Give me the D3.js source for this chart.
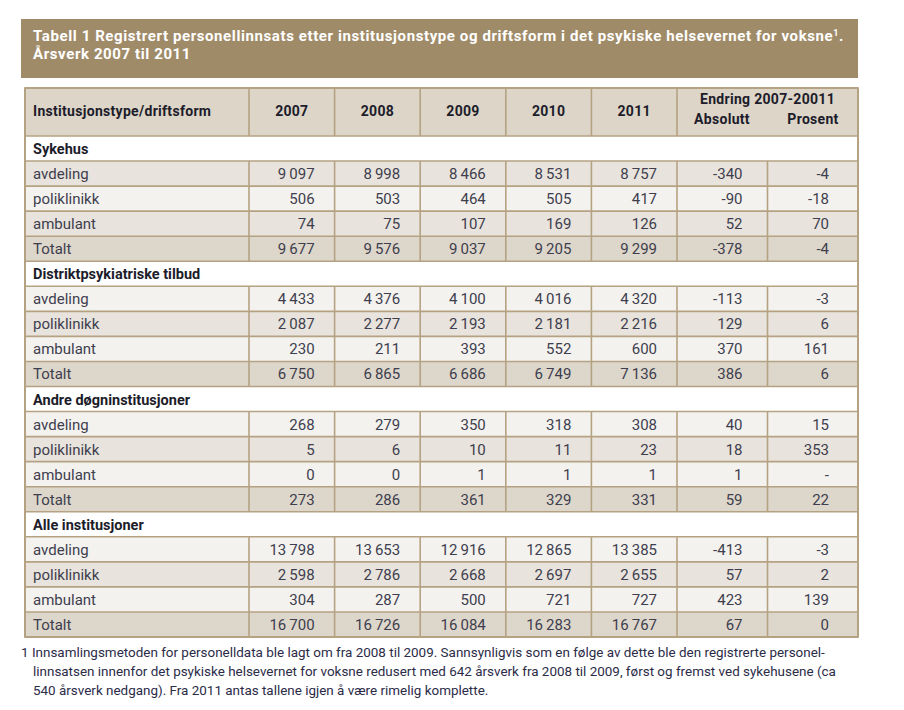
<!DOCTYPE html>
<html><head><meta charset="utf-8">
<script src="https://cdn.jsdelivr.net/npm/d3@7"></script>
<style>body{margin:0;background:#fff} svg{display:block}</style>
</head><body><script>
// ---- data ----
const titleLine1 = "Tabell 1 Registrert personellinnsats etter institusjonstype og driftsform i det psykiske helsevernet for voksne";
const titleLine2 = "Årsverk 2007 til 2011";
const firstColHeader = "Institusjonstype/driftsform";
const years = ["2007", "2008", "2009", "2010", "2011"];
const endringHeader = "Endring 2007-20011";
const endringCols = ["Absolutt", "Prosent"];
const sections = ["Sykehus", "Distriktpsykiatriske tilbud", "Andre døgninstitusjoner", "Alle institusjoner"];
const categories = ["avdeling", "poliklinikk", "ambulant", "Totalt"];

const sykehus = [[9097, 8998, 8466, 8531, 8757], [506, 503, 464, 505, 417], [74, 75, 107, 169, 126], [9677, 9576, 9037, 9205, 9299]];
const sykehusEndring = [[-340, -4], [-90, -18], [52, 70], [-378, -4]];
const distrikt = [[4433, 4376, 4100, 4016, 4320], [2087, 2277, 2193, 2181, 2216], [230, 211, 393, 552, 600], [6750, 6865, 6686, 6749, 7136]];
const distriktEndring = [[-113, -3], [129, 6], [370, 161], [386, 6]];
const andre = [[268, 279, 350, 318, 308], [5, 6, 10, 11, 23], [0, 0, 1, 1, 1], [273, 286, 361, 329, 331]];
const andreEndring = [[40, 15], [18, 353], [1, null], [59, 22]];
const alle = [[13798, 13653, 12916, 12865, 13385], [2598, 2786, 2668, 2697, 2655], [304, 287, 500, 721, 727], [16700, 16726, 16084, 16283, 16767]];
const alleEndring = [[-413, -3], [57, 2], [423, 139], [67, 0]];

const footnote = [
  "1 Innsamlingsmetoden for personelldata ble lagt om fra 2008 til 2009. Sannsynligvis som en følge av dette ble den registrerte personel-",
  "linnsatsen innenfor det psykiske helsevernet for voksne redusert med 642 årsverk fra 2008 til 2009, først og fremst ved sykehusene (ca",
  "540 årsverk nedgang). Fra 2011 antas tallene igjen å være rimelig komplette."
];

// ---- build rows ----
const sectionValues = [sykehus, distrikt, andre, alle];
const sectionEndring = [sykehusEndring, distriktEndring, andreEndring, alleEndring];
const rows = [];
sections.forEach((s, si) => {
  rows.push({type: "section", label: s, si});
  categories.forEach((c, ci) => {
    rows.push({type: c === "Totalt" ? "total" : "data", label: c, si, ci,
      values: sectionValues[si][ci], endring: sectionEndring[si][ci]});
  });
});

// ---- style ----
const W = 904, H = 710;
const FONT = "Roboto, 'Liberation Sans', Arial, sans-serif";
const C = {
  titleBg: "#a08b69", headerBg: "#ddd5c8", border: "#b5a282",
  dark: "#e8e3dc", light: "#f4f2ee", total: "#ddd6ca",
  text: "#3e3e4e", strong: "#1c1c2a"
};
const left = 25, right = 858, firstColRight = 249, yearsRight = 677;
const headerTop = 88, headerBottom = 136, tableBottom = 637;

const locale = d3.formatLocale({decimal: ",", thousands: "\u2009", grouping: [3], currency: ["", ""], minus: "-"});
const fmt = v => v == null ? "-" : locale.format(",d")(v);

const svg = d3.select("body").append("svg").attr("width", W).attr("height", H)
  .style("font-family", FONT);

// scales
const xYear = d3.scaleBand().domain(years).range([firstColRight, yearsRight]);
const xEnd = d3.scaleBand().domain(endringCols).range([yearsRight, right]);
const y = d3.scaleBand().domain(d3.range(rows.length)).range([headerBottom, tableBottom]);

// ---- title ----
svg.append("rect").attr("x", 21).attr("y", 19).attr("width", right - 21).attr("height", 59).attr("fill", C.titleBg);
const t1 = svg.append("text").attr("x", 33).attr("y", 41).attr("fill", "#fff")
  .attr("font-weight", "bold").attr("font-size", 15).attr("letter-spacing", 0.6);
t1.append("tspan").text(titleLine1);
t1.append("tspan").attr("font-size", 9).attr("dy", -5).text("1");
t1.append("tspan").attr("dy", 5).text(".");
svg.append("text").attr("x", 33).attr("y", 59).attr("fill", "#fff")
  .attr("font-weight", "bold").attr("font-size", 15).attr("letter-spacing", 0.6).text(titleLine2);

// ---- header ----
svg.append("rect").attr("x", left).attr("y", headerTop).attr("width", right - left).attr("height", headerBottom - headerTop).attr("fill", C.headerBg);
const hdr = svg.append("g").attr("font-weight", "bold").attr("font-size", 14).attr("letter-spacing", 0.3).attr("fill", C.strong);
hdr.append("text").attr("x", 33).attr("y", 116).text(firstColHeader);
hdr.selectAll(".yr").data(years).join("text").attr("class", "yr")
  .attr("x", d => xYear(d) + xYear.bandwidth() / 2).attr("y", 116).attr("text-anchor", "middle").text(d => d);
hdr.append("text").attr("x", (yearsRight + right) / 2).attr("y", 104).attr("text-anchor", "middle").text(endringHeader);
hdr.append("text").attr("x", 722).attr("y", 124).attr("text-anchor", "middle").text(endringCols[0]);
hdr.append("text").attr("x", 813).attr("y", 124).attr("text-anchor", "middle").text(endringCols[1]);

// ---- rows ----
const rowFill = r => {
  if (r.type === "section") return "#fff";
  if (r.type === "total") return C.total;
  const darkFirst = r.si === 0;
  const even = r.ci % 2 === 0;
  return (even === darkFirst) ? C.dark : C.light;
};
const rowG = svg.append("g").selectAll("g").data(rows).join("g")
  .attr("transform", (d, i) => `translate(0,${y(i)})`);
rowG.append("rect").attr("x", left).attr("width", right - left).attr("height", y.bandwidth()).attr("fill", rowFill);
rowG.append("text").attr("x", 33).attr("y", y.bandwidth() / 2 + 5.5)
  .attr("font-size", d => d.type === "section" ? 14.5 : 15)
  .attr("font-weight", d => d.type === "section" ? "bold" : "normal")
  .attr("fill", d => d.type === "section" ? C.strong : C.text)
  .text(d => d.label);

const dataRows = rowG.filter(d => d.type !== "section");
dataRows.selectAll(".v").data(d => d.values.map((v, k) => ({v, k}))).join("text").attr("class", "v")
  .attr("x", d => xYear(years[d.k]) + xYear.bandwidth() - 20)
  .attr("y", y.bandwidth() / 2 + 5.5).attr("text-anchor", "end")
  .attr("font-size", 15).attr("fill", C.text).text(d => fmt(d.v));
dataRows.selectAll(".e").data(d => d.endring.map((v, k) => ({v, k}))).join("text").attr("class", "e")
  .attr("x", d => xEnd(endringCols[d.k]) + xEnd.bandwidth() - (d.k === 0 ? 25 : 29))
  .attr("y", y.bandwidth() / 2 + 5.5).attr("text-anchor", "end")
  .attr("font-size", 15).attr("fill", C.text).text(d => fmt(d.v));

// ---- grid lines ----
const lines = svg.append("g").attr("stroke", C.border).attr("stroke-width", 1.6);
const hy = [headerTop, headerBottom].concat(d3.range(1, rows.length + 1).map(i => y(i - 1) + y.bandwidth()));
lines.selectAll(".h").data(hy).join("line").attr("class", "h")
  .attr("x1", left - 1).attr("x2", right + 1).attr("y1", d => d).attr("y2", d => d);
const headerV = [firstColRight].concat(years.slice(1).map(d => xYear(d))).concat([yearsRight]);
lines.selectAll(".hv").data(headerV).join("line").attr("class", "hv")
  .attr("x1", d => d).attr("x2", d => d).attr("y1", headerTop).attr("y2", headerBottom);
const dataV = headerV.concat([xEnd(endringCols[1])]);
rows.forEach((r, i) => {
  if (r.type === "section") return;
  lines.append("g").selectAll("line").data(dataV).join("line")
    .attr("x1", d => d).attr("x2", d => d).attr("y1", y(i)).attr("y2", y(i) + y.bandwidth());
});
lines.append("line").attr("x1", left).attr("x2", left).attr("y1", headerTop).attr("y2", tableBottom).attr("stroke-width", 2);
lines.append("line").attr("x1", right).attr("x2", right).attr("y1", headerTop).attr("y2", tableBottom).attr("stroke-width", 2);
lines.append("line").attr("x1", left).attr("x2", right).attr("y1", headerTop).attr("y2", headerTop).attr("stroke-width", 2.2);
lines.append("line").attr("x1", left).attr("x2", right).attr("y1", tableBottom).attr("y2", tableBottom).attr("stroke-width", 2.2);

// ---- footnote ----
const fn = svg.append("g").attr("font-size", 13.45).attr("fill", "#2c2c48");
fn.selectAll("text").data(footnote).join("text")
  .attr("x", (d, i) => i === 0 ? 21 : 33)
  .attr("y", (d, i) => 657 + i * 19)
  .text(d => d);
</script></body></html>
